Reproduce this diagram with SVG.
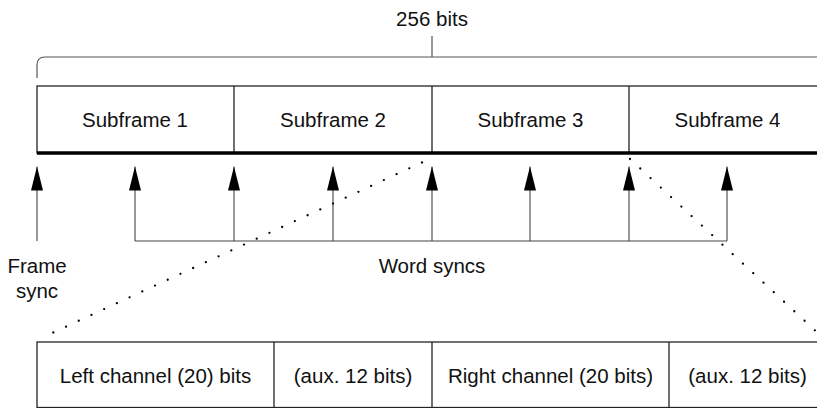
<svg xmlns="http://www.w3.org/2000/svg" width="817" height="408" viewBox="0 0 817 408">
<defs>
<style>
text{font-family:"Liberation Sans",Arial,sans-serif;font-size:20.5px;fill:#111;text-anchor:middle}
.box{fill:none;stroke:#222;stroke-width:1.3}
.thin{fill:none;stroke:#444;stroke-width:1.1}
.brace{fill:none;stroke:#555;stroke-width:1.2}
.dot{fill:none;stroke:#000;stroke-width:2.3;stroke-linecap:round;stroke-dasharray:0 14}
.head{fill:#000}
</style>
<marker id="ah" viewBox="0 0 24 12" refX="24" refY="6" markerWidth="24" markerHeight="12" markerUnits="userSpaceOnUse" orient="auto">
<polygon points="24,6 0,0 0,12" class="head"/>
</marker>
</defs>
<rect width="817" height="408" fill="#fff"/>

<g id="brace">
<path class="brace" d="M37,78 V65 Q37,57 45,57 H817"/>
<line class="brace" x1="432" y1="36" x2="432" y2="57"/>
<text x="432" y="26">256 bits</text>
</g>

<g id="frame">
<rect class="box" x="37" y="86" width="789" height="67"/>
<line class="box" x1="234" y1="86" x2="234" y2="153"/>
<line class="box" x1="432" y1="86" x2="432" y2="153"/>
<line class="box" x1="629" y1="86" x2="629" y2="153"/>
<line x1="37" y1="153" x2="817" y2="153" stroke="#000" stroke-width="3.5"/>
</g>
<g id="subframe1"><text x="135" y="127.3">Subframe 1</text></g>
<g id="subframe2"><text x="333" y="127.3">Subframe 2</text></g>
<g id="subframe3"><text x="530.5" y="127.3">Subframe 3</text></g>
<g id="subframe4"><text x="727.5" y="127.3">Subframe 4</text></g>

<g id="connectors">
<line class="thin" x1="37" y1="241" x2="37" y2="166.5" marker-end="url(#ah)"/>
<polyline class="thin" points="135,241 727,241"/>
<line class="thin" x1="135" y1="241" x2="135" y2="166.5" marker-end="url(#ah)"/>
<line class="thin" x1="234" y1="241" x2="234" y2="166.5" marker-end="url(#ah)"/>
<line class="thin" x1="333" y1="241" x2="333" y2="166.5" marker-end="url(#ah)"/>
<line class="thin" x1="432" y1="241" x2="432" y2="166.5" marker-end="url(#ah)"/>
<line class="thin" x1="530" y1="241" x2="530" y2="166.5" marker-end="url(#ah)"/>
<line class="thin" x1="629" y1="241" x2="629" y2="166.5" marker-end="url(#ah)"/>
<line class="thin" x1="727" y1="241" x2="727" y2="166.5" marker-end="url(#ah)"/>
<line class="dot" x1="422" y1="162.5" x2="40.7" y2="338.3"/>
<line class="dot" x1="630" y1="159" x2="815.3" y2="330.7"/>
</g>

<g id="frame-sync"><text x="37" y="273.3">Frame</text><text x="37" y="297.5">sync</text></g>
<g id="word-syncs"><text x="432" y="273.3">Word syncs</text></g>

<g id="subframe-detail">
<rect class="box" x="37" y="342" width="789" height="65.5"/>
<line class="box" x1="274" y1="342" x2="274" y2="408"/>
<line class="box" x1="432" y1="342" x2="432" y2="408"/>
<line class="box" x1="669" y1="342" x2="669" y2="408"/>
</g>
<g id="left-channel"><text x="155.5" y="383.3">Left channel (20) bits</text></g>
<g id="aux1"><text x="353" y="383.3">(aux. 12 bits)</text></g>
<g id="right-channel"><text x="550.5" y="383.3">Right channel (20 bits)</text></g>
<g id="aux2"><text x="747.5" y="383.3">(aux. 12 bits)</text></g>
</svg>
